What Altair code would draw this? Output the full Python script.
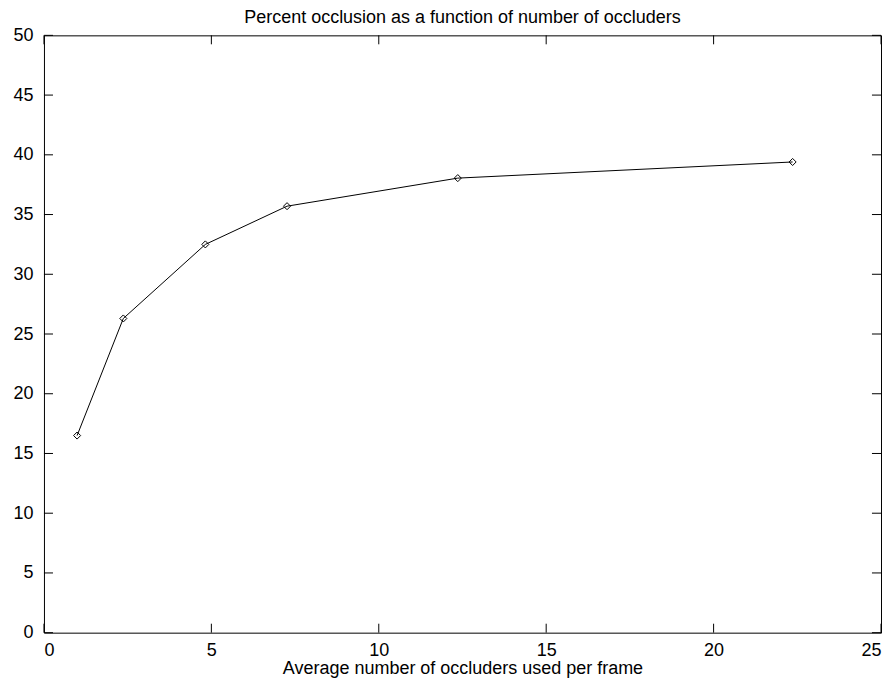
import altair as alt
import pandas as pd

occluders = [0.99, 2.37, 4.82, 7.26, 12.36, 22.36]
occlusion = [16.5, 26.3, 32.5, 35.7, 38.05, 39.4]

x_ticks = [0, 5, 10, 15, 20, 25]
y_ticks = [0, 5, 10, 15, 20, 25, 30, 35, 40, 45, 50]

chart_title = ["Percent occlusion as a function of number of occluders"]

df = pd.DataFrame({"x": occluders, "y": occlusion})
xt = pd.DataFrame({"v": x_ticks})
yt = pd.DataFrame({"v": y_ticks})
tt = pd.DataFrame({"t": chart_title})

W, H = 838, 598
FONT = "Liberation Sans"
FS = 18

xscale = alt.Scale(domain=[0, 25], nice=False, zero=False)
yscale = alt.Scale(domain=[0, 50], nice=False, zero=False)

xaxis = alt.Axis(values=x_ticks, ticks=False, domain=False, grid=False,
                 labelFontSize=FS, labelPadding=9, labelFont=FONT, labelColor="black",
                 labelBaseline="top",
                 title="Average number of occluders used per frame",
                 titleFontSize=FS, titleFontWeight="normal", titleFont=FONT, titleColor="black",
                 titlePadding=0)
yaxis = alt.Axis(values=y_ticks, ticks=False, domain=False, grid=False,
                 labelFontSize=FS, labelPadding=11, labelFont=FONT, labelColor="black", title=None)

line = alt.Chart(df).mark_line(color="black", strokeWidth=1).encode(
    x=alt.X("x:Q", scale=xscale, axis=xaxis),
    y=alt.Y("y:Q", scale=yscale, axis=yaxis),
)
pts = alt.Chart(df).mark_point(shape="diamond", size=50, filled=False, color="black",
                               strokeWidth=1, opacity=1).encode(
    x=alt.X("x:Q", scale=xscale),
    y=alt.Y("y:Q", scale=yscale),
)

tick_len_y = 0.75   # in y data units (~9 px)
tick_len_x = 0.27   # in x data units (~9 px)

bx = alt.Chart(xt).mark_rule(color="black", strokeWidth=1).encode(
    x=alt.X("v:Q", scale=xscale), y=alt.datum(0, scale=yscale), y2=alt.datum(tick_len_y))
tx = alt.Chart(xt).mark_rule(color="black", strokeWidth=1).encode(
    x=alt.X("v:Q", scale=xscale), y=alt.datum(50, scale=yscale), y2=alt.datum(50 - tick_len_y))
ly = alt.Chart(yt).mark_rule(color="black", strokeWidth=1).encode(
    y=alt.Y("v:Q", scale=yscale), x=alt.datum(0, scale=xscale), x2=alt.datum(tick_len_x))
ry = alt.Chart(yt).mark_rule(color="black", strokeWidth=1).encode(
    y=alt.Y("v:Q", scale=yscale), x=alt.datum(25, scale=xscale), x2=alt.datum(25 - tick_len_x))

title_txt = alt.Chart(tt).mark_text(font=FONT, fontSize=FS, color="black", align="center",
                                    baseline="alphabetic", dy=-12).encode(
    text="t:N", x=alt.value(W / 2), y=alt.value(0))

chart = alt.layer(bx, tx, ly, ry, line, pts, title_txt).properties(
    width=W, height=H,
    background="white",
    autosize=alt.AutoSizeParams(type="none"),
    padding={"left": 36, "top": 27, "right": 5, "bottom": 46},
).configure_view(stroke="black", strokeWidth=1)

chart.save("out.html", embed_options={"renderer": "svg", "actions": False})
